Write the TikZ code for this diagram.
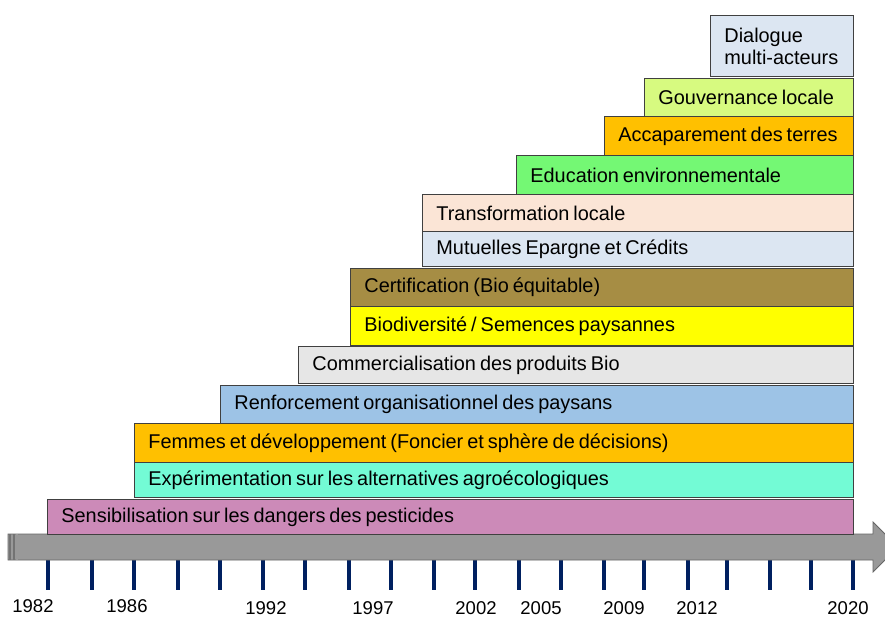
\documentclass[tikz,border=0pt]{standalone}
\usepackage{fontspec}
\setmainfont{Liberation Sans}
\definecolor{bleupale}{HTML}{DCE6F2}
\definecolor{vertpale}{HTML}{D7FA80}
\definecolor{orange}{HTML}{FFC000}
\definecolor{vertvif}{HTML}{74F874}
\definecolor{peche}{HTML}{FBE5D6}
\definecolor{brun}{HTML}{A68D44}
\definecolor{jaune}{HTML}{FFFF00}
\definecolor{grisclair}{HTML}{E6E6E6}
\definecolor{bleuciel}{HTML}{9DC3E6}
\definecolor{aqua}{HTML}{73FBD5}
\definecolor{rose}{HTML}{CC8AB8}
\definecolor{bleunuit}{HTML}{002060}
\definecolor{gristrait}{HTML}{999999}
\newcommand\serre{\spaceskip=0.2em\relax\hyphenpenalty=10000\relax}

\begin{document}
\begin{tikzpicture}[x=1pt,y=1pt]
\tikzstyle{every node}+=[inner sep=0pt]
\tikzstyle{bar}=[draw=black!75, line width=0.8pt, anchor=north west, inner xsep=14pt, align=left, font=\fontsize{19.9}{22}\selectfont, execute at begin node=\serre]
\tikzstyle{tick}=[draw=bleunuit, line width=4pt]
\tikzstyle{year}=[font=\fontsize{18.5}{20}\selectfont]
\path [use as bounding box, clip] (0,0) rectangle (885,-617);
% ticks
\foreach \x in {48,92,134,178,220,263,305,349,391,434,475,519,561,604,644,688,727,770,811,853}
  \draw [tick] (\x,-558) -- (\x,-590);
% timeline
\draw [fill=gristrait, draw=black!60, line width=0.8pt] (8,-534) -- (873,-534) -- (873,-522) -- (898,-547) -- (873,-572) -- (873,-560) -- (8,-560) -- cycle;
\fill [black!55] (9,-534) rectangle (10.5,-560);
\fill [black!55] (13,-534) rectangle (14.5,-560);
\fill [black!40] (16,-534) rectangle (17.5,-560);
% years
\node [year] (y1982) at (33,-606) {1982};
\node [year] (y1986) at (127,-606) {1986};
\node [year] (y1992) at (266,-608) {1992};
\node [year] (y1997) at (373,-608) {1997};
\node [year] (y2002) at (476,-608) {2002};
\node [year] (y2005) at (541,-608) {2005};
\node [year] (y2009) at (624,-608) {2009};
\node [year] (y2012) at (697,-608) {2012};
\node [year] (y2020) at (848,-608) {2020};
% themes
\node [bar, fill=rose, text width=778pt, minimum height=35pt] (sensib) at (47,-499) {Sensibilisation sur les dangers des pesticides};
\node [bar, fill=aqua, text width=691pt, minimum height=35pt] (exper) at (134,-462) {Expérimentation sur les alternatives agroécologiques};
\node [bar, fill=orange, text width=691pt, minimum height=39pt] (femmes) at (134,-423) {Femmes et développement (Foncier et sphère de décisions)};
\node [bar, fill=bleuciel, text width=605pt, minimum height=38pt] (renf) at (220,-385) {Renforcement organisationnel des paysans};
\node [bar, fill=grisclair, text width=527pt, minimum height=37pt] (comm) at (298,-346) {Commercialisation des produits Bio};
\node [bar, fill=jaune, text width=475pt, minimum height=39pt] (biodiv) at (350,-306) {Biodiversité / Semences paysannes};
\node [bar, fill=brun, text width=475pt, minimum height=38pt] (certif) at (350,-268) {Certification (Bio équitable)};
\node [bar, fill=bleupale, text width=403pt, minimum height=35pt] (mutu) at (422,-231) {Mutuelles Epargne et Crédits};
\node [bar, fill=peche, text width=403pt, minimum height=37pt] (transf) at (422,-194) {Transformation locale};
\node [bar, fill=vertvif, text width=309pt, minimum height=39pt] (educ) at (516,-155) {Education environnementale};
\node [bar, fill=orange, text width=221pt, minimum height=39pt] (accap) at (604,-116) {\mbox{Accaparement des terres}};
\node [bar, fill=vertpale, text width=181pt, minimum height=38pt] (gouv) at (644,-78) {Gouvernance locale};
\node [bar, fill=bleupale, text width=115pt, minimum height=61pt] (dial) at (710,-15) {Dialogue\\multi-acteurs};
\end{tikzpicture}
\end{document}
